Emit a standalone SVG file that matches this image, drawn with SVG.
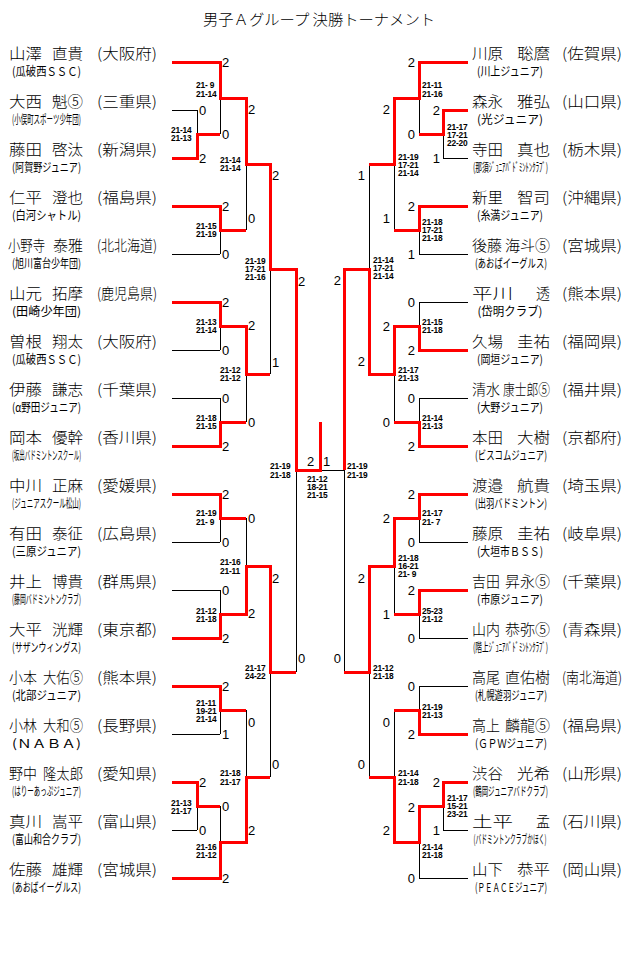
<svg xmlns="http://www.w3.org/2000/svg" width="640" height="957" viewBox="0 0 640 957">
<style>
text{font-family:"Noto Sans CJK JP","Liberation Sans",sans-serif;fill:#000}
.t{font-size:15px;font-weight:300}
.n{font-size:15px;font-weight:300}
.c{font-size:12px}
.d{font-family:"Liberation Sans",sans-serif;font-size:13px}
.de{font-family:"Liberation Sans",sans-serif;font-size:13px;text-anchor:end}
.s{font-family:"Liberation Sans",sans-serif;font-size:8.4px;font-weight:bold;letter-spacing:-0.2px}
.k{stroke:#000;stroke-width:1;fill:none;shape-rendering:crispEdges}
.r{stroke:#f00;stroke-width:3;fill:none;stroke-linejoin:miter;shape-rendering:crispEdges}
</style>
<rect width="640" height="957" fill="#fff"/>
<text class="t" x="203" y="25" textLength="232" lengthAdjust="spacingAndGlyphs">男子Ａグループ 決勝トーナメント</text>

<g id="connectors">
<path class="k" d="M172,110H197M172,254H220M172,350H220M172,398H220M172,542H220M172,590H220M172,734H220M172,830H197M197,110V158M197,782V830M220,62V134M220,206V254M220,302V350M220,398V446M220,494V542M220,590V638M220,686V734M220,806V878M246,98V230M246,326V422M246,518V614M246,710V842M270,164V374M270,566V777M296,269V672M296,470H344M468,158H443M468,254H419M468,302H419M468,398H419M468,542H419M468,638H419M468,686H419M468,830H443M468,878H419M443,110V158M443,782V830M419,62V134M419,206V254M419,302V350M419,398V446M419,494V542M419,590V638M419,686V734M419,806V878M394,98V230M394,326V422M394,518V614M394,710V842M369,164V374M369,566V777M344,269V672"/>
<path class="r" d="M172,62H220V98H246V164H270V269H296V470H320V422M172,158H197V134H220M172,206H220V230H246M172,302H220V326H246V374H270M172,446H220V422H246M172,494H220V518H246M172,638H220V614H246V566H270V672H296M172,686H220V710H246M172,782H197V806H220M172,878H220V842H246V777H270M468,62H419V98H394V164H369M468,110H443V134H419M468,206H419V230H394M468,350H419V326H394V374H369V269H344V470M468,446H419V422H394M468,494H419V518H394V566H369V672H344M468,590H419V614H394M468,734H419V710H394M468,782H443V806H419V842H394V777H369"/>
</g>

<g id="L01"><text class="n" x="9" y="59" textLength="33" lengthAdjust="spacingAndGlyphs">山澤</text><text class="n" x="52" y="59" textLength="31" lengthAdjust="spacingAndGlyphs">直貴</text><text class="n" x="97" y="59" textLength="60" lengthAdjust="spacingAndGlyphs">(大阪府)</text><text class="c" x="12" y="76" textLength="69" lengthAdjust="spacingAndGlyphs">(瓜破西ＳＳＣ)</text></g>
<g id="L02"><text class="n" x="9" y="107" textLength="33" lengthAdjust="spacingAndGlyphs">大西</text><text class="n" x="52" y="107" textLength="31" lengthAdjust="spacingAndGlyphs">魁⑤</text><text class="n" x="97" y="107" textLength="60" lengthAdjust="spacingAndGlyphs">(三重県)</text><text class="c" x="12" y="124" textLength="69" lengthAdjust="spacingAndGlyphs">(小俣町スポーツ少年団)</text></g>
<g id="L03"><text class="n" x="9" y="155" textLength="33" lengthAdjust="spacingAndGlyphs">藤田</text><text class="n" x="52" y="155" textLength="31" lengthAdjust="spacingAndGlyphs">啓汰</text><text class="n" x="97" y="155" textLength="60" lengthAdjust="spacingAndGlyphs">(新潟県)</text><text class="c" x="12" y="172" textLength="69" lengthAdjust="spacingAndGlyphs">(阿賀野ジュニア)</text></g>
<g id="L04"><text class="n" x="9" y="203" textLength="33" lengthAdjust="spacingAndGlyphs">仁平</text><text class="n" x="52" y="203" textLength="31" lengthAdjust="spacingAndGlyphs">澄也</text><text class="n" x="97" y="203" textLength="60" lengthAdjust="spacingAndGlyphs">(福島県)</text><text class="c" x="12" y="220" textLength="69" lengthAdjust="spacingAndGlyphs">(白河シャトル)</text></g>
<g id="L05"><text class="n" x="8" y="251" textLength="37" lengthAdjust="spacingAndGlyphs">小野寺</text><text class="n" x="53" y="251" textLength="30" lengthAdjust="spacingAndGlyphs">泰雅</text><text class="n" x="97" y="251" textLength="60" lengthAdjust="spacingAndGlyphs">(北北海道)</text><text class="c" x="12" y="268" textLength="69" lengthAdjust="spacingAndGlyphs">(旭川富台少年団)</text></g>
<g id="L06"><text class="n" x="9" y="299" textLength="33" lengthAdjust="spacingAndGlyphs">山元</text><text class="n" x="52" y="299" textLength="31" lengthAdjust="spacingAndGlyphs">拓摩</text><text class="n" x="97" y="299" textLength="60" lengthAdjust="spacingAndGlyphs">(鹿児島県)</text><text class="c" x="12" y="316" textLength="69" lengthAdjust="spacingAndGlyphs">(田崎少年団)</text></g>
<g id="L07"><text class="n" x="9" y="347" textLength="33" lengthAdjust="spacingAndGlyphs">曽根</text><text class="n" x="52" y="347" textLength="31" lengthAdjust="spacingAndGlyphs">翔太</text><text class="n" x="97" y="347" textLength="60" lengthAdjust="spacingAndGlyphs">(大阪府)</text><text class="c" x="12" y="364" textLength="69" lengthAdjust="spacingAndGlyphs">(瓜破西ＳＳＣ)</text></g>
<g id="L08"><text class="n" x="9" y="395" textLength="33" lengthAdjust="spacingAndGlyphs">伊藤</text><text class="n" x="52" y="395" textLength="31" lengthAdjust="spacingAndGlyphs">謙志</text><text class="n" x="97" y="395" textLength="60" lengthAdjust="spacingAndGlyphs">(千葉県)</text><text class="c" x="12" y="412" textLength="69" lengthAdjust="spacingAndGlyphs">(α野田ジュニア)</text></g>
<g id="L09"><text class="n" x="9" y="443" textLength="33" lengthAdjust="spacingAndGlyphs">岡本</text><text class="n" x="52" y="443" textLength="31" lengthAdjust="spacingAndGlyphs">優幹</text><text class="n" x="97" y="443" textLength="60" lengthAdjust="spacingAndGlyphs">(香川県)</text><text class="c" x="12" y="460" textLength="69" lengthAdjust="spacingAndGlyphs">(坂出バドミントンスクール)</text></g>
<g id="L10"><text class="n" x="9" y="491" textLength="33" lengthAdjust="spacingAndGlyphs">中川</text><text class="n" x="52" y="491" textLength="31" lengthAdjust="spacingAndGlyphs">正麻</text><text class="n" x="97" y="491" textLength="60" lengthAdjust="spacingAndGlyphs">(愛媛県)</text><text class="c" x="12" y="508" textLength="69" lengthAdjust="spacingAndGlyphs">(ジュニアスクール松山)</text></g>
<g id="L11"><text class="n" x="9" y="539" textLength="33" lengthAdjust="spacingAndGlyphs">有田</text><text class="n" x="52" y="539" textLength="31" lengthAdjust="spacingAndGlyphs">泰征</text><text class="n" x="97" y="539" textLength="60" lengthAdjust="spacingAndGlyphs">(広島県)</text><text class="c" x="12" y="556" textLength="69" lengthAdjust="spacingAndGlyphs">(三原ジュニア)</text></g>
<g id="L12"><text class="n" x="9" y="587" textLength="33" lengthAdjust="spacingAndGlyphs">井上</text><text class="n" x="52" y="587" textLength="31" lengthAdjust="spacingAndGlyphs">博貴</text><text class="n" x="97" y="587" textLength="60" lengthAdjust="spacingAndGlyphs">(群馬県)</text><text class="c" x="12" y="604" textLength="69" lengthAdjust="spacingAndGlyphs">(藤岡バドミントンクラブ)</text></g>
<g id="L13"><text class="n" x="9" y="635" textLength="33" lengthAdjust="spacingAndGlyphs">大平</text><text class="n" x="52" y="635" textLength="31" lengthAdjust="spacingAndGlyphs">洸輝</text><text class="n" x="97" y="635" textLength="60" lengthAdjust="spacingAndGlyphs">(東京都)</text><text class="c" x="12" y="652" textLength="69" lengthAdjust="spacingAndGlyphs">(サザンウィングス)</text></g>
<g id="L14"><text class="n" x="9" y="683" textLength="28" lengthAdjust="spacingAndGlyphs">小本</text><text class="n" x="43" y="683" textLength="40" lengthAdjust="spacingAndGlyphs">大佑⑤</text><text class="n" x="97" y="683" textLength="60" lengthAdjust="spacingAndGlyphs">(熊本県)</text><text class="c" x="12" y="700" textLength="69" lengthAdjust="spacingAndGlyphs">(北部ジュニア)</text></g>
<g id="L15"><text class="n" x="9" y="731" textLength="28" lengthAdjust="spacingAndGlyphs">小林</text><text class="n" x="43" y="731" textLength="40" lengthAdjust="spacingAndGlyphs">大和⑤</text><text class="n" x="97" y="731" textLength="60" lengthAdjust="spacingAndGlyphs">(長野県)</text><text class="c" x="12" y="748" textLength="69" lengthAdjust="spacingAndGlyphs">(ＮＡＢＡ)</text></g>
<g id="L16"><text class="n" x="9" y="779" textLength="28" lengthAdjust="spacingAndGlyphs">野中</text><text class="n" x="43" y="779" textLength="40" lengthAdjust="spacingAndGlyphs">隆太郎</text><text class="n" x="97" y="779" textLength="60" lengthAdjust="spacingAndGlyphs">(愛知県)</text><text class="c" x="12" y="796" textLength="69" lengthAdjust="spacingAndGlyphs">(はりーあっぷジュニア)</text></g>
<g id="L17"><text class="n" x="9" y="827" textLength="33" lengthAdjust="spacingAndGlyphs">真川</text><text class="n" x="52" y="827" textLength="31" lengthAdjust="spacingAndGlyphs">嵩平</text><text class="n" x="97" y="827" textLength="60" lengthAdjust="spacingAndGlyphs">(富山県)</text><text class="c" x="12" y="844" textLength="69" lengthAdjust="spacingAndGlyphs">(富山和合クラブ)</text></g>
<g id="L18"><text class="n" x="9" y="875" textLength="33" lengthAdjust="spacingAndGlyphs">佐藤</text><text class="n" x="52" y="875" textLength="31" lengthAdjust="spacingAndGlyphs">雄輝</text><text class="n" x="97" y="875" textLength="60" lengthAdjust="spacingAndGlyphs">(宮城県)</text><text class="c" x="12" y="892" textLength="69" lengthAdjust="spacingAndGlyphs">(あおばイーグルス)</text></g>

<g id="R01"><text class="n" x="472" y="59" textLength="31" lengthAdjust="spacingAndGlyphs">川原</text><text class="n" x="517" y="59" textLength="33" lengthAdjust="spacingAndGlyphs">聡麿</text><text class="n" x="562" y="59" textLength="60" lengthAdjust="spacingAndGlyphs">(佐賀県)</text><text class="c" x="477" y="76" textLength="66" lengthAdjust="spacingAndGlyphs">(川上ジュニア)</text></g>
<g id="R02"><text class="n" x="472" y="107" textLength="31" lengthAdjust="spacingAndGlyphs">森永</text><text class="n" x="517" y="107" textLength="33" lengthAdjust="spacingAndGlyphs">雅弘</text><text class="n" x="562" y="107" textLength="60" lengthAdjust="spacingAndGlyphs">(山口県)</text><text class="c" x="477" y="124" textLength="66" lengthAdjust="spacingAndGlyphs">(光ジュニア)</text></g>
<g id="R03"><text class="n" x="472" y="155" textLength="31" lengthAdjust="spacingAndGlyphs">寺田</text><text class="n" x="517" y="155" textLength="33" lengthAdjust="spacingAndGlyphs">真也</text><text class="n" x="562" y="155" textLength="60" lengthAdjust="spacingAndGlyphs">(栃木県)</text><text class="c" x="473" y="172" textLength="75" lengthAdjust="spacingAndGlyphs">(那須ｼﾞｭﾆｱﾊﾞﾄﾞﾐﾝﾄﾝｸﾗﾌﾞ)</text></g>
<g id="R04"><text class="n" x="472" y="203" textLength="31" lengthAdjust="spacingAndGlyphs">新里</text><text class="n" x="517" y="203" textLength="33" lengthAdjust="spacingAndGlyphs">智司</text><text class="n" x="562" y="203" textLength="60" lengthAdjust="spacingAndGlyphs">(沖縄県)</text><text class="c" x="477" y="220" textLength="66" lengthAdjust="spacingAndGlyphs">(糸満ジュニア)</text></g>
<g id="R05"><text class="n" x="472" y="251" textLength="30" lengthAdjust="spacingAndGlyphs">後藤</text><text class="n" x="505" y="251" textLength="45" lengthAdjust="spacingAndGlyphs">海斗⑤</text><text class="n" x="562" y="251" textLength="60" lengthAdjust="spacingAndGlyphs">(宮城県)</text><text class="c" x="475" y="268" textLength="72" lengthAdjust="spacingAndGlyphs">(あおばイーグルス)</text></g>
<g id="R06"><text class="n" x="472" y="299" textLength="41" lengthAdjust="spacingAndGlyphs">平川</text><text class="n" x="536" y="299" textLength="14" lengthAdjust="spacingAndGlyphs">透</text><text class="n" x="562" y="299" textLength="60" lengthAdjust="spacingAndGlyphs">(熊本県)</text><text class="c" x="477.5" y="316" textLength="65" lengthAdjust="spacingAndGlyphs">(岱明クラブ)</text></g>
<g id="R07"><text class="n" x="472" y="347" textLength="31" lengthAdjust="spacingAndGlyphs">久場</text><text class="n" x="517" y="347" textLength="33" lengthAdjust="spacingAndGlyphs">圭祐</text><text class="n" x="562" y="347" textLength="60" lengthAdjust="spacingAndGlyphs">(福岡県)</text><text class="c" x="477" y="364" textLength="66" lengthAdjust="spacingAndGlyphs">(岡垣ジュニア)</text></g>
<g id="R08"><text class="n" x="472" y="395" textLength="28" lengthAdjust="spacingAndGlyphs">清水</text><text class="n" x="503" y="395" textLength="47" lengthAdjust="spacingAndGlyphs">康士郎⑤</text><text class="n" x="562" y="395" textLength="60" lengthAdjust="spacingAndGlyphs">(福井県)</text><text class="c" x="477" y="412" textLength="66" lengthAdjust="spacingAndGlyphs">(大野ジュニア)</text></g>
<g id="R09"><text class="n" x="472" y="443" textLength="31" lengthAdjust="spacingAndGlyphs">本田</text><text class="n" x="517" y="443" textLength="33" lengthAdjust="spacingAndGlyphs">大樹</text><text class="n" x="562" y="443" textLength="60" lengthAdjust="spacingAndGlyphs">(京都府)</text><text class="c" x="475" y="460" textLength="72" lengthAdjust="spacingAndGlyphs">(ビスコムジュニア)</text></g>
<g id="R10"><text class="n" x="472" y="491" textLength="31" lengthAdjust="spacingAndGlyphs">渡邉</text><text class="n" x="517" y="491" textLength="33" lengthAdjust="spacingAndGlyphs">航貴</text><text class="n" x="562" y="491" textLength="60" lengthAdjust="spacingAndGlyphs">(埼玉県)</text><text class="c" x="475" y="508" textLength="72" lengthAdjust="spacingAndGlyphs">(出羽バドミントン)</text></g>
<g id="R11"><text class="n" x="472" y="539" textLength="31" lengthAdjust="spacingAndGlyphs">藤原</text><text class="n" x="517" y="539" textLength="33" lengthAdjust="spacingAndGlyphs">圭祐</text><text class="n" x="562" y="539" textLength="60" lengthAdjust="spacingAndGlyphs">(岐阜県)</text><text class="c" x="477" y="556" textLength="66" lengthAdjust="spacingAndGlyphs">(大垣市ＢＳＳ)</text></g>
<g id="R12"><text class="n" x="472" y="587" textLength="28" lengthAdjust="spacingAndGlyphs">吉田</text><text class="n" x="505" y="587" textLength="45" lengthAdjust="spacingAndGlyphs">昇永⑤</text><text class="n" x="562" y="587" textLength="60" lengthAdjust="spacingAndGlyphs">(千葉県)</text><text class="c" x="477" y="604" textLength="66" lengthAdjust="spacingAndGlyphs">(市原ジュニア)</text></g>
<g id="R13"><text class="n" x="472" y="635" textLength="28" lengthAdjust="spacingAndGlyphs">山内</text><text class="n" x="505" y="635" textLength="45" lengthAdjust="spacingAndGlyphs">恭弥⑤</text><text class="n" x="562" y="635" textLength="60" lengthAdjust="spacingAndGlyphs">(青森県)</text><text class="c" x="473" y="652" textLength="75" lengthAdjust="spacingAndGlyphs">(階上ｼﾞｭﾆｱﾊﾞﾄﾞﾐﾝﾄﾝｸﾗﾌﾞ)</text></g>
<g id="R14"><text class="n" x="472" y="683" textLength="28" lengthAdjust="spacingAndGlyphs">高尾</text><text class="n" x="505" y="683" textLength="45" lengthAdjust="spacingAndGlyphs">直佑樹</text><text class="n" x="562" y="683" textLength="60" lengthAdjust="spacingAndGlyphs">(南北海道)</text><text class="c" x="475" y="700" textLength="72" lengthAdjust="spacingAndGlyphs">(札幌遊羽ジュニア)</text></g>
<g id="R15"><text class="n" x="472" y="731" textLength="28" lengthAdjust="spacingAndGlyphs">高上</text><text class="n" x="505" y="731" textLength="45" lengthAdjust="spacingAndGlyphs">麟龍⑤</text><text class="n" x="562" y="731" textLength="60" lengthAdjust="spacingAndGlyphs">(福島県)</text><text class="c" x="475" y="748" textLength="72" lengthAdjust="spacingAndGlyphs">(ＧＰＷジュニア)</text></g>
<g id="R16"><text class="n" x="472" y="779" textLength="31" lengthAdjust="spacingAndGlyphs">渋谷</text><text class="n" x="517" y="779" textLength="33" lengthAdjust="spacingAndGlyphs">光希</text><text class="n" x="562" y="779" textLength="60" lengthAdjust="spacingAndGlyphs">(山形県)</text><text class="c" x="473" y="796" textLength="75" lengthAdjust="spacingAndGlyphs">(鶴岡ジュニアバドクラブ)</text></g>
<g id="R17"><text class="n" x="472" y="827" textLength="41" lengthAdjust="spacingAndGlyphs">土平</text><text class="n" x="536" y="827" textLength="14" lengthAdjust="spacingAndGlyphs">孟</text><text class="n" x="562" y="827" textLength="60" lengthAdjust="spacingAndGlyphs">(石川県)</text><text class="c" x="473.5" y="844" textLength="73" lengthAdjust="spacingAndGlyphs">(バドミントンクラブかほく)</text></g>
<g id="R18"><text class="n" x="472" y="875" textLength="31" lengthAdjust="spacingAndGlyphs">山下</text><text class="n" x="517" y="875" textLength="33" lengthAdjust="spacingAndGlyphs">恭平</text><text class="n" x="562" y="875" textLength="60" lengthAdjust="spacingAndGlyphs">(岡山県)</text><text class="c" x="475" y="892" textLength="72" lengthAdjust="spacingAndGlyphs">(ＰＥＡＣＥジュニア)</text></g>

<g id="results">
<text class="d" x="199" y="114.5">0</text><text class="d" x="199" y="162.5">2</text><text class="d" x="199" y="786.5">2</text><text class="d" x="199" y="834.5">0</text>
<text class="d" x="222" y="66.5">2</text><text class="d" x="222" y="138.5">0</text><text class="d" x="222" y="210.5">2</text><text class="d" x="222" y="258.5">0</text><text class="d" x="222" y="306.5">2</text><text class="d" x="222" y="354.5">0</text><text class="d" x="222" y="402.5">0</text><text class="d" x="222" y="450.5">2</text><text class="d" x="222" y="498.5">2</text><text class="d" x="222" y="546.5">0</text><text class="d" x="222" y="594.5">0</text><text class="d" x="222" y="642.5">2</text><text class="d" x="222" y="690.5">2</text><text class="d" x="222" y="738.5">1</text><text class="d" x="222" y="810.5">0</text><text class="d" x="222" y="882.5">2</text>
<text class="d" x="248" y="113.5">2</text><text class="d" x="248" y="222.5">0</text><text class="d" x="248" y="329.5">2</text><text class="d" x="248" y="426.5">0</text><text class="d" x="248" y="522.5">0</text><text class="d" x="248" y="617.5">2</text><text class="d" x="248" y="726.5">0</text><text class="d" x="248" y="834.5">2</text>
<text class="d" x="272" y="179.5">2</text><text class="d" x="272" y="366.5">1</text><text class="d" x="272" y="582.5">2</text><text class="d" x="272" y="768.5">0</text>
<text class="d" x="298" y="285.5">2</text><text class="d" x="298" y="662.5">0</text>
<text class="d" x="307" y="465.5">2</text><text class="d" x="323" y="465.5">1</text>
<text class="de" x="440" y="114.5">2</text><text class="de" x="440" y="162.5">1</text><text class="de" x="440" y="786.5">2</text><text class="de" x="440" y="834.5">1</text>
<text class="de" x="415" y="66.5">2</text><text class="de" x="415" y="138.5">0</text><text class="de" x="415" y="210.5">2</text><text class="de" x="415" y="258.5">1</text><text class="de" x="415" y="306.5">0</text><text class="de" x="415" y="354.5">2</text><text class="de" x="415" y="402.5">0</text><text class="de" x="415" y="450.5">2</text><text class="de" x="415" y="498.5">2</text><text class="de" x="415" y="546.5">0</text><text class="de" x="415" y="594.5">2</text><text class="de" x="415" y="642.5">0</text><text class="de" x="415" y="690.5">0</text><text class="de" x="415" y="738.5">2</text><text class="de" x="415" y="811.5">2</text><text class="de" x="415" y="882.5">0</text>
<text class="de" x="390" y="113.5">2</text><text class="de" x="390" y="222.5">1</text><text class="de" x="390" y="330.5">2</text><text class="de" x="390" y="426.5">0</text><text class="de" x="390" y="522.5">2</text><text class="de" x="390" y="618.5">1</text><text class="de" x="390" y="726.5">0</text><text class="de" x="390" y="834.5">2</text>
<text class="de" x="365" y="179.5">1</text><text class="de" x="365" y="365.5">2</text><text class="de" x="365" y="582.5">2</text><text class="de" x="365" y="768.5">0</text>
<text class="de" x="341" y="284.5">2</text><text class="de" x="341" y="662.5">0</text>
</g>

<g id="scores">
<text class="s" x="171" y="133.3"><tspan x="171">21-14</tspan><tspan x="171" dy="8">21-13</tspan></text>
<text class="s" x="196" y="88.3"><tspan x="196">21- 9</tspan><tspan x="196" dy="9">21-14</tspan></text>
<text class="s" x="196" y="229.3"><tspan x="196">21-15</tspan><tspan x="196" dy="8">21-19</tspan></text>
<text class="s" x="220" y="163.3"><tspan x="220">21-14</tspan><tspan x="220" dy="8">21-14</tspan></text>
<text class="s" x="196" y="325.3"><tspan x="196">21-13</tspan><tspan x="196" dy="8">21-14</tspan></text>
<text class="s" x="196" y="421.3"><tspan x="196">21-18</tspan><tspan x="196" dy="8">21-15</tspan></text>
<text class="s" x="220" y="373.3"><tspan x="220">21-12</tspan><tspan x="220" dy="8">21-12</tspan></text>
<text class="s" x="245" y="264.3"><tspan x="245">21-19</tspan><tspan x="245" dy="8">17-21</tspan><tspan x="245" dy="8">21-16</tspan></text>
<text class="s" x="196" y="516.3"><tspan x="196">21-19</tspan><tspan x="196" dy="9">21- 9</tspan></text>
<text class="s" x="196" y="614.3"><tspan x="196">21-12</tspan><tspan x="196" dy="8">21-18</tspan></text>
<text class="s" x="220" y="565.3"><tspan x="220">21-16</tspan><tspan x="220" dy="9">21-11</tspan></text>
<text class="s" x="245" y="671.3"><tspan x="245">21-17</tspan><tspan x="245" dy="8">24-22</tspan></text>
<text class="s" x="196" y="706.3"><tspan x="196">21-11</tspan><tspan x="196" dy="8">19-21</tspan><tspan x="196" dy="8">21-14</tspan></text>
<text class="s" x="171" y="806.3"><tspan x="171">21-13</tspan><tspan x="171" dy="8">21-17</tspan></text>
<text class="s" x="196" y="850.3"><tspan x="196">21-16</tspan><tspan x="196" dy="8">21-12</tspan></text>
<text class="s" x="220" y="776.3"><tspan x="220">21-18</tspan><tspan x="220" dy="9">21-17</tspan></text>
<text class="s" x="270" y="469.3"><tspan x="270">21-19</tspan><tspan x="270" dy="9">21-18</tspan></text>
<text class="s" x="307" y="482.3"><tspan x="307">21-12</tspan><tspan x="307" dy="8">18-21</tspan><tspan x="307" dy="8">21-15</tspan></text>
<text class="s" x="447" y="130.3"><tspan x="447">21-17</tspan><tspan x="447" dy="8">17-21</tspan><tspan x="447" dy="8">22-20</tspan></text>
<text class="s" x="422" y="88.3"><tspan x="422">21-11</tspan><tspan x="422" dy="9">21-16</tspan></text>
<text class="s" x="398" y="160.3"><tspan x="398">21-19</tspan><tspan x="398" dy="8">17-21</tspan><tspan x="398" dy="8">21-14</tspan></text>
<text class="s" x="422" y="225.3"><tspan x="422">21-18</tspan><tspan x="422" dy="8">17-21</tspan><tspan x="422" dy="8">21-18</tspan></text>
<text class="s" x="373" y="263.3"><tspan x="373">21-14</tspan><tspan x="373" dy="8">17-21</tspan><tspan x="373" dy="8">21-14</tspan></text>
<text class="s" x="422" y="325.3"><tspan x="422">21-15</tspan><tspan x="422" dy="8">21-18</tspan></text>
<text class="s" x="398" y="373.3"><tspan x="398">21-17</tspan><tspan x="398" dy="8">21-13</tspan></text>
<text class="s" x="422" y="421.3"><tspan x="422">21-14</tspan><tspan x="422" dy="8">21-13</tspan></text>
<text class="s" x="347" y="469.3"><tspan x="347">21-19</tspan><tspan x="347" dy="9">21-19</tspan></text>
<text class="s" x="422" y="516.3"><tspan x="422">21-17</tspan><tspan x="422" dy="9">21- 7</tspan></text>
<text class="s" x="398" y="561.3"><tspan x="398">21-18</tspan><tspan x="398" dy="8">16-21</tspan><tspan x="398" dy="8">21- 9</tspan></text>
<text class="s" x="422" y="614.3"><tspan x="422">25-23</tspan><tspan x="422" dy="8">21-12</tspan></text>
<text class="s" x="373" y="671.3"><tspan x="373">21-12</tspan><tspan x="373" dy="8">21-18</tspan></text>
<text class="s" x="422" y="710.3"><tspan x="422">21-19</tspan><tspan x="422" dy="8">21-13</tspan></text>
<text class="s" x="398" y="776.3"><tspan x="398">21-14</tspan><tspan x="398" dy="9">21-18</tspan></text>
<text class="s" x="447" y="801.3"><tspan x="447">21-17</tspan><tspan x="447" dy="8">15-21</tspan><tspan x="447" dy="8">23-21</tspan></text>
<text class="s" x="422" y="850.3"><tspan x="422">21-14</tspan><tspan x="422" dy="8">21-18</tspan></text>
</g>
</svg>
